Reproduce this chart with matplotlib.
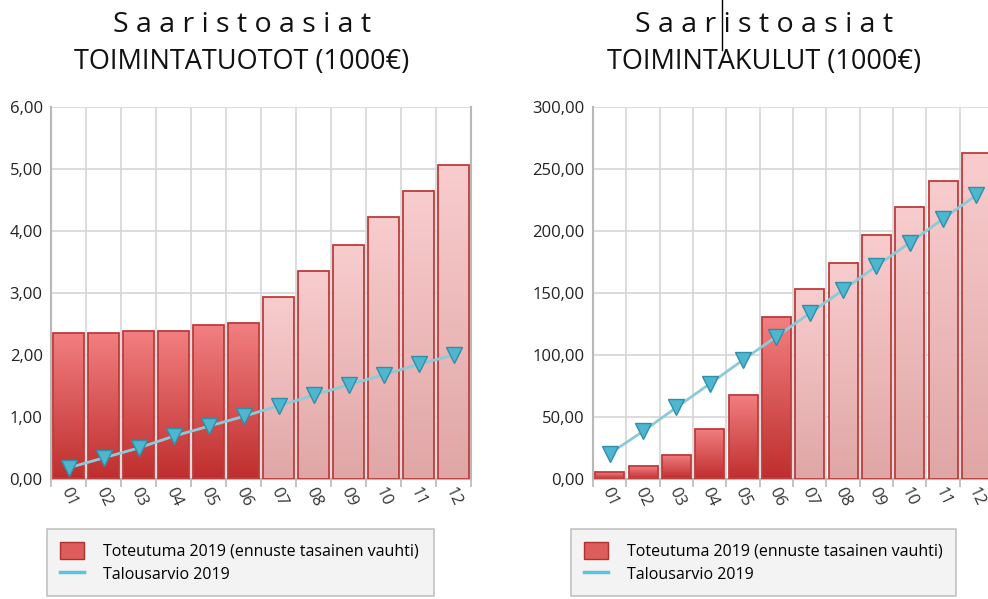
import numpy as np
import matplotlib.pyplot as plt
from matplotlib.patches import Patch
from matplotlib.lines import Line2D
from matplotlib.colors import LinearSegmentedColormap

plt.rcParams['font.family'] = ['Open Sans', 'DejaVu Sans']

months = ["01", "02", "03", "04", "05", "06", "07", "08", "09", "10", "11", "12"]
n_actual = 6  # kuukaudet 01-06 toteutuneet, loput ennustetta

tuotot_toteutuma = [2.35, 2.35, 2.39, 2.39, 2.48, 2.52, 2.93, 3.35, 3.77, 4.22, 4.65, 5.06]
tuotot_budjetti = [0.18, 0.34, 0.50, 0.69, 0.85, 1.01, 1.18, 1.35, 1.52, 1.68, 1.85, 2.00]

kulut_toteutuma = [5.4, 10.2, 19.6, 40.5, 67.9, 130.4, 153.2, 174.4, 196.6, 219.5, 240.4, 262.9]
kulut_budjetti = [20.5, 38.4, 57.7, 76.7, 96.0, 114.8, 133.6, 152.4, 171.7, 190.5, 209.8, 228.9]

dark_cmap = LinearSegmentedColormap.from_list("dark", ["#bf2e2e", "#f27f80"])
light_cmap = LinearSegmentedColormap.from_list("light", ["#e0a6a6", "#f8cccd"])
grad = np.linspace(0, 1, 100).reshape(-1, 1)


def draw_chart(ax, bars, line, ymax):
    x = np.arange(len(months))
    ax.set_axisbelow(True)
    rects = ax.bar(x, bars, width=0.87, facecolor="none", edgecolor="#c03a3a",
                   linewidth=1.3, zorder=3)
    for i, r in enumerate(rects):
        cmap = dark_cmap if i < n_actual else light_cmap
        im = ax.imshow(grad, extent=(r.get_x(), r.get_x() + r.get_width(), 0, r.get_height()),
                       origin="lower", aspect="auto", cmap=cmap, zorder=2)
        im.set_clip_path(r)
    ax.set_xlim(-0.5, len(months) - 0.5)
    ax.set_ylim(0, ymax)
    ax.plot(x, line, color="#8ccad8", linewidth=2, zorder=4,
            marker="v", markersize=11, markerfacecolor="#4fb6cf",
            markeredgecolor="#2f8fa8", markeredgewidth=1)

    yt = np.linspace(0, ymax, 7)
    ax.set_yticks(yt)
    ax.set_yticklabels([("%.2f" % v).replace(".", ",") for v in yt])
    ax.set_xticks(x)
    ax.set_xticklabels(months, rotation=-65, ha="center")
    ax.set_xticks(np.arange(-0.5, len(months)), minor=True)
    ax.tick_params(axis="x", which="major", length=0, pad=4, labelsize=12, colors="#333333")
    ax.tick_params(axis="x", which="minor", length=6, color="#b8b8b8", width=1.2)
    ax.tick_params(axis="y", length=0, pad=6, labelsize=12, colors="#222222")
    ax.grid(True, axis="y", color="#d6d6d6", linewidth=1.2)
    ax.grid(True, axis="x", which="minor", color="#d6d6d6", linewidth=1.2)
    for side in ["left", "bottom", "right"]:
        ax.spines[side].set_color("#b8b8b8")
        ax.spines[side].set_linewidth(1.5)
    ax.spines["top"].set_visible(False)


fig = plt.figure(figsize=(9.88, 5.99), dpi=100)
ax1 = fig.add_axes([51 / 988, 120 / 599, 420 / 988, 372 / 599])
ax2 = fig.add_axes([593 / 988, 120 / 599, 400 / 988, 372 / 599])

draw_chart(ax1, tuotot_toteutuma, tuotot_budjetti, 6)
draw_chart(ax2, kulut_toteutuma, kulut_budjetti, 300)

spaced = " ".join("Saaristoasiat")
for xc, sub in [(242, "TOIMINTATUOTOT (1000€)"), (764, "TOIMINTAKULUT (1000€)")]:
    fig.text(xc / 988, 1 - 25 / 599, spaced, ha="center", va="center", fontsize=20.5,
             color="#111111")
    fig.text(xc / 988, 1 - 62 / 599, sub, ha="center", va="center", fontsize=19.5,
             color="#111111")
# tekstikursori kuvakaappauksessa
fig.add_artist(Line2D([722 / 988, 722 / 988], [1.0, 1 - 50 / 599], color="black", linewidth=1))

handles = [Patch(facecolor="#dd5c5c", edgecolor="#b03030", label="Toteutuma 2019 (ennuste tasainen vauhti)"),
           Line2D([], [], color="#5cc4da", linewidth=2.5, label="Talousarvio 2019")]
for x0, w in [(47, 387), (571, 385)]:
    leg = fig.legend(handles=handles, loc="upper left",
                     bbox_to_anchor=(x0 / 988, 1 - 535 / 599, w / 988, 0.01),
                     mode="expand", fontsize=11.5, frameon=True, fancybox=False,
                     handlelength=1.5, handleheight=1.3, labelspacing=0.35,
                     borderpad=0.8, handletextpad=1.2, borderaxespad=0)
    leg.get_frame().set_facecolor("#f0f0f0")
    leg.get_frame().set_edgecolor("#b4b4b4")
    leg.get_frame().set_linewidth(1.2)

fig.savefig("out.png", dpi=100)
